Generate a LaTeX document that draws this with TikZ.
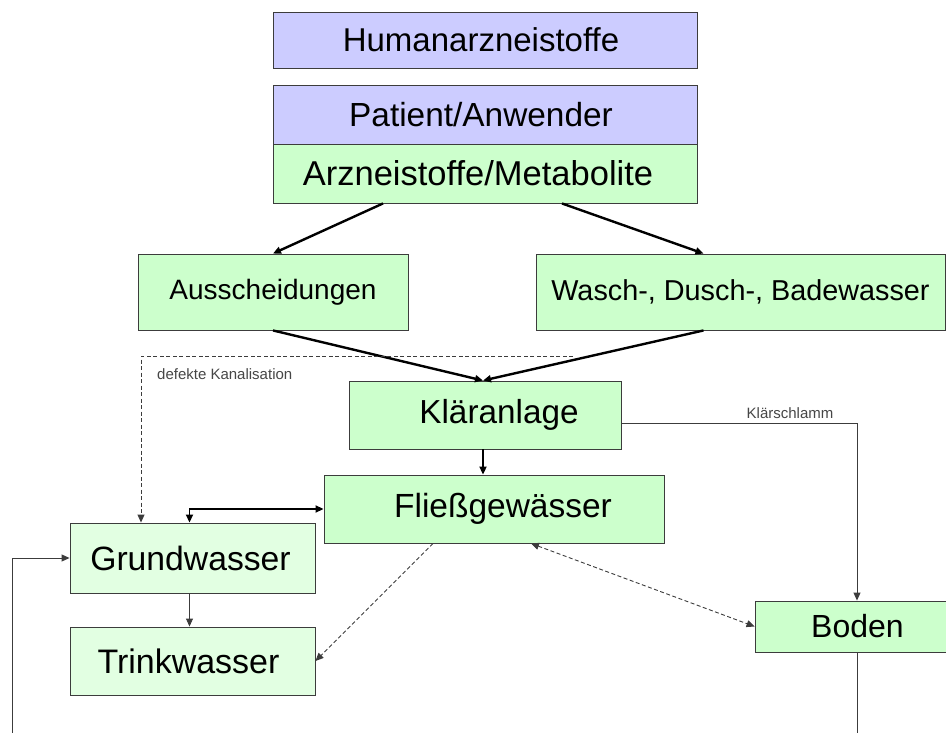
\documentclass[tikz,border=0pt]{standalone}
\usepackage{fontspec}
\setmainfont{Liberation Sans}
\definecolor{lila}{RGB}{204, 204, 255}
\definecolor{gruen}{RGB}{204, 255, 204}
\definecolor{hellgruen}{RGB}{226, 255, 226}
\definecolor{rahmen}{RGB}{60, 60, 60}
\definecolor{schrift}{RGB}{70, 70, 70}
\usetikzlibrary{arrows.meta,positioning,calc}
% Text im Kasten seitlich verschieben
\newcommand{\versatz}[2]{\kern#1\relax#2\kern-#1\relax}

\tikzset{
    kasten/.style={rectangle, draw=rahmen, line width=0.9pt, inner sep=0pt, font=\fontsize{33}{38}\selectfont},
    klein/.style={font=\fontsize{15}{18}\selectfont, text=schrift, inner sep=0pt},
    dick/.style={->, line width=2.4pt},
    duenn/.style={->, line width=0.9pt, color=rahmen},
    gestrichelt/.style={duenn, dashed, dash pattern=on 4pt off 2.5pt}
}

\begin{document}
\begin{tikzpicture}[x=1pt, y=-1pt, >={Triangle[length=8pt, width=7pt]}]
    \useasboundingbox (0,0) rectangle (946,733);
    % Kaesten
    \node[kasten, fill=lila, minimum width=424pt, minimum height=56pt] (human) at (485,40) {\versatz{-4pt}{Humanarzneistoffe}};
    \node[kasten, fill=lila, minimum width=424pt, minimum height=59pt, font=\fontsize{33.4}{38}\selectfont] (patient) at (485,114.5) {\versatz{-4pt}{Patient/Anwender}};
    \node[kasten, fill=gruen, minimum width=424pt, minimum height=59pt, font=\fontsize{34.5}{38}\selectfont] (arznei) at (485,173.5) {\versatz{-7pt}{Arzneistoffe/Metabolite}};
    \node[kasten, fill=gruen, minimum width=270pt, minimum height=76pt, font=\fontsize{28}{32}\selectfont] (aussch) at (273,292) {Ausscheidungen};
    \node[kasten, fill=gruen, minimum width=409pt, minimum height=76pt, font=\fontsize{28.8}{32}\selectfont] (wasch) at (740.5,292) {Wasch-, Dusch-, Badewasser};
    \node[kasten, fill=gruen, minimum width=272pt, minimum height=68pt, font=\fontsize{33.3}{38}\selectfont] (klaer) at (485,415) {\versatz{14pt}{Kläranlage}};
    \node[kasten, fill=gruen, minimum width=340pt, minimum height=68pt, font=\fontsize{33.5}{38}\selectfont] (fliess) at (494,509) {\versatz{9pt}{Fließgewässer}};
    \node[kasten, fill=hellgruen, minimum width=245pt, minimum height=70pt, font=\fontsize{33.7}{38}\selectfont] (grund) at (192.5,558) {\versatz{-2pt}{Grundwasser}};
    \node[kasten, fill=hellgruen, minimum width=245pt, minimum height=68pt, font=\fontsize{34}{38}\selectfont] (trink) at (192.5,661) {\versatz{-4pt}{Trinkwasser}};
    \node[kasten, fill=gruen, minimum width=225pt, minimum height=51pt, font=\fontsize{32}{36}\selectfont] (boden) at (867.5,626.5) {\versatz{-10pt}{Boden}};

    \coordinate (kanal) at (573,356);
    \coordinate (bodenfuss) at (857,733);
    \coordinate (rueck) at (12,733);

    % Verbindungen
    \draw[dick] ([xshift=-102pt]arznei.south) -- (aussch.north);
    \draw[dick] ([xshift=77pt]arznei.south) -- ([xshift=-37pt]wasch.north);
    \draw[dick] (aussch.south) -- ([xshift=-2pt]klaer.north);
    \draw[dick] ([xshift=-37pt]wasch.south) -- ([xshift=-2pt]klaer.north);
    \draw[dick] ([xshift=-2pt]klaer.south) -- ([xshift=-2pt]klaer.south |- fliess.north);
    \draw[<->, line width=1.8pt] (fliess.west) -| ([xshift=-3pt]grund.north);
    \draw[gestrichelt] (kanal) -| ([xshift=-51.5pt]grund.north);
    \node[klein, anchor=west] (kanaltext) at (157,374) {defekte Kanalisation};
    \draw[duenn] ([yshift=-8pt]klaer.east) -| ([xshift=-10.5pt]boden.north);
    \node[klein, anchor=south] (schlammtext) at (790,419) {Klärschlamm};
    \draw[duenn] ([xshift=-3pt]grund.south) -- ([xshift=-3pt]trink.north);
    \draw[gestrichelt] ([xshift=-61pt]fliess.south) -- (trink.east);
    \draw[gestrichelt, <->] ([xshift=37pt]fliess.south) -- (boden.west);
    \draw[line width=0.9pt, color=rahmen] ([xshift=-10.5pt]boden.south) -- (bodenfuss);
    \draw[duenn] (rueck) |- (grund.west);
\end{tikzpicture}
\end{document}
